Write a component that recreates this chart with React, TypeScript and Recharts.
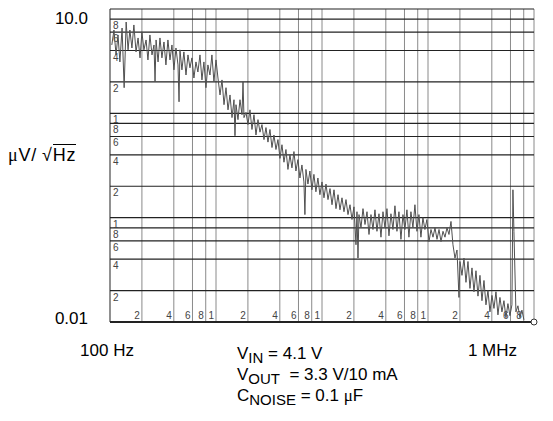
import React from "react";
import { LineChart, Line, XAxis, YAxis, ReferenceLine, ReferenceDot } from "recharts";

// noise spectrum (Hz, µV/√Hz)
const freqHz = [
  104, 109, 114, 119, 124, 130, 136, 142, 148, 154, 161, 168, 176, 184, 192, 200, 209, 219, 228, 238,
  249, 260, 266, 272, 284, 296, 309, 323, 337, 352, 368, 384, 401, 419, 438, 448, 457, 477, 498, 521,
  544, 568, 593, 619, 647, 675, 706, 737, 769, 804, 839, 877, 915, 956, 1000,
  1044, 1091, 1139, 1190, 1243, 1298, 1355, 1416, 1478, 1510, 1544, 1612, 1684, 1759, 1798, 1837, 1918,
  2003, 2092, 2185, 2282, 2383, 2489, 2599, 2715, 2835, 2961, 3092, 3229, 3373, 3522, 3679, 3842, 4012,
  4190, 4376, 4570, 4773, 4984, 5205, 5436, 5677, 5929, 6192, 6467, 6753, 6900, 7053, 7366, 7692, 8033,
  8390, 8762, 9150, 9556, 10000,
  10440, 10910, 11390, 11900, 12430, 12980, 13550, 14160, 14780, 15440, 16120, 16840, 17590, 18370,
  19180, 20030, 20920, 21380, 21850, 22330, 23320, 24360, 25440, 26570, 27750, 28980, 30260, 31600,
  33000, 34470, 36000, 37600, 39260, 41000, 42820, 44720, 46700, 48770, 50940, 53200, 55560, 58020,
  60590, 63280, 66090, 69020, 72080, 75280, 78620, 82110, 85750, 89550, 93520, 97670,
  102200, 106700, 111500, 116400, 121600, 127000, 132600, 138500, 144600, 151000, 157700, 164800,
  172000, 179700, 187700, 196000, 200300, 209200, 218500, 228200, 238300, 248900, 259900, 271500,
  283500, 296100, 309200, 322900, 337300, 352200, 367900, 384200, 401200, 419000, 437600, 457000,
  477300, 498400, 520500, 543600, 567700, 592900, 619200, 632800, 646700, 675300, 705300, 736600,
  769200, 803300,
];

const noiseUv = [
  4.52, 6.29, 3.63, 5.64, 3.11, 6.57, 1.76, 7.5, 4.06, 6.29, 4.23, 7.03, 3.88, 5.28, 3.4, 6.0, 4.06, 5.05, 3.25, 5.64,
  3.63, 4.52, 2.0, 5.05, 3.11, 5.28, 3.4, 4.83, 2.91, 5.05, 3.25, 4.52, 2.61, 4.23, 2.91, 1.29, 4.06, 2.61, 3.88, 2.33,
  3.63, 2.73, 3.4, 2.18, 3.11, 2.49, 3.63, 2.09, 3.11, 1.76, 2.91, 2.33, 3.63, 2.0, 3.25,
  2.18, 1.5, 2.09, 1.21, 1.76, 1.08, 1.5, 0.91, 1.35, 0.61, 1.21, 0.87, 1.35, 0.97, 2.0, 0.91, 1.02,
  0.78, 1.08, 0.7, 0.97, 0.62, 0.87, 0.66, 0.78, 0.56, 0.73, 0.53, 0.7, 0.47, 0.62, 0.45, 0.56, 0.37,
  0.5, 0.34, 0.45, 0.29, 0.4, 0.3, 0.43, 0.28, 0.36, 0.24, 0.32, 0.22, 0.107, 0.29, 0.21, 0.28, 0.185,
  0.26, 0.177, 0.24, 0.166, 0.22,
  0.155, 0.21, 0.149, 0.19, 0.133, 0.185, 0.122, 0.166, 0.119, 0.155, 0.114, 0.149, 0.107, 0.133,
  0.096, 0.127, 0.055, 0.114, 0.041, 0.107, 0.08, 0.122, 0.086, 0.114, 0.069, 0.107, 0.077, 0.119,
  0.074, 0.109, 0.065, 0.114, 0.08, 0.122, 0.067, 0.109, 0.077, 0.13, 0.074, 0.114, 0.062, 0.107,
  0.077, 0.119, 0.065, 0.114, 0.08, 0.133, 0.074, 0.107, 0.065, 0.1, 0.077, 0.096,
  0.059, 0.077, 0.065, 0.08, 0.062, 0.077, 0.059, 0.074, 0.065, 0.08, 0.069, 0.092,
  0.055, 0.041, 0.049, 0.0172, 0.038, 0.028, 0.041, 0.024, 0.038, 0.021, 0.033, 0.0195,
  0.031, 0.0177, 0.028, 0.016, 0.025, 0.0146, 0.02, 0.0125, 0.018, 0.0135, 0.0195, 0.0117,
  0.0172, 0.0125, 0.016, 0.011, 0.015, 0.0115, 0.0146, 0.185, 0.074, 0.0125, 0.0143, 0.011,
  0.013, 0.0105,
];

const xGrid = [
  100, 200, 400, 600, 800, 1000, 2000, 4000, 6000, 8000, 10000, 20000, 40000, 60000, 80000,
  100000, 200000, 400000, 600000, 800000, 1000000,
];
const yGrid = [0.01, 0.02, 0.04, 0.06, 0.08, 0.1, 0.2, 0.4, 0.6, 0.8, 1, 2, 4, 6, 8, 10];

const xEndLabels = ["100 Hz", "1 MHz"];
const yEndLabels = ["0.01", "10.0"];

const W = 553;
const H = 421;
const FONT = "'Liberation Sans', Arial, sans-serif";

const data = freqHz.map((f, i) => ({ f, v: noiseUv[i] }));

// leading digit of a grid value, as printed on the chart paper
const digit = (v: number) => {
  const m = Math.round(v / Math.pow(10, Math.floor(Math.log10(v) + 1e-9)));
  return String(m);
};

function xLabel(v: number) {
  return (p: any) => {
    const vb = p.viewBox;
    const bottom = vb.y + vb.height;
    if (v === 100) {
      return (
        <text x={vb.x - 3} y={bottom + 34} textAnchor="middle" fontSize={17} fontFamily={FONT} fill="#000">
          {xEndLabels[0]}
        </text>
      );
    }
    if (v === 1000000) {
      return (
        <text x={vb.x - 17} y={bottom + 34} textAnchor="end" fontSize={17} fontFamily={FONT} fill="#000">
          {xEndLabels[1]}
        </text>
      );
    }
    return (
      <text x={vb.x - 2} y={bottom - 3} textAnchor="end" fontSize={10} fontFamily={FONT} fill="#444">
        {digit(v)}
      </text>
    );
  };
}

function yLabel(v: number) {
  return (p: any) => {
    const vb = p.viewBox;
    if (v === 0.01 || v === 10) {
      return (
        <text
          x={vb.x - 22}
          y={v === 10 ? vb.y + 15 : vb.y + 2}
          textAnchor="end"
          fontSize={17}
          fontFamily={FONT}
          fill="#000"
        >
          {v === 10 ? yEndLabels[1] : yEndLabels[0]}
        </text>
      );
    }
    return (
      <text x={vb.x + 3} y={vb.y + 10} fontSize={10} fontFamily={FONT} fill="#444">
        {digit(v)}
      </text>
    );
  };
}

export default function App() {
  return (
    <div style={{ position: "fixed", left: 0, top: 0, width: W, height: H, background: "#fff" }}>
      <LineChart width={W} height={H} data={data} margin={{ top: 9, right: 19, bottom: 99, left: 110 }}>
        <XAxis
          dataKey="f"
          type="number"
          scale="log"
          domain={[100, 1000000]}
          height={0}
          tick={false}
          tickLine={false}
          axisLine={false}
          allowDataOverflow
        />
        <YAxis
          type="number"
          scale="log"
          domain={[0.01, 10]}
          width={0}
          tick={false}
          tickLine={false}
          axisLine={false}
          allowDataOverflow
        />
        {xGrid.map((v) => (
          <ReferenceLine
            key={"x" + v}
            x={v}
            stroke={v === 100 ? "#555" : "#8a8a8a"}
            strokeWidth={v === 100 ? 1.3 : 1}
            ifOverflow="visible"
            label={xLabel(v)}
          />
        ))}
        {yGrid.map((v) => (
          <ReferenceLine
            key={"y" + v}
            y={v}
            stroke="#222"
            strokeWidth={v === 0.01 ? 1.8 : 1.2}
            ifOverflow="visible"
            label={yLabel(v)}
          />
        ))}
        <Line
          dataKey="v"
          stroke="#505050"
          strokeWidth={1}
          dot={false}
          isAnimationActive={false}
          type="linear"
        />
        <ReferenceDot x={1000000} y={0.01} r={3} fill="#fff" stroke="#333" ifOverflow="visible" />
      </LineChart>

      <div
        style={{
          position: "absolute",
          left: 8,
          top: 145,
          fontFamily: FONT,
          fontSize: 18,
          color: "#000",
          whiteSpace: "nowrap",
          letterSpacing: 0.8,
        }}
      >
        <span style={{ fontFamily: "'Liberation Serif', serif" }}>μ</span>V/
        <span style={{ marginLeft: 5 }}>√</span>
        <span style={{ borderTop: "1px solid #000" }}>Hz</span>
      </div>

      <div
        style={{
          position: "absolute",
          left: 237,
          top: 343,
          fontFamily: FONT,
          fontSize: 17,
          lineHeight: "21px",
          color: "#000",
          whiteSpace: "nowrap",
        }}
      >
        <div>
          V<sub style={{ fontSize: 15, lineHeight: 0 }}>IN</sub> = 4.1 V
        </div>
        <div>
          V<sub style={{ fontSize: 15, lineHeight: 0 }}>OUT</sub>&nbsp; = 3.3 V/10 mA
        </div>
        <div>
          C<sub style={{ fontSize: 15, lineHeight: 0 }}>NOISE</sub> = 0.1{" "}
          <span style={{ fontFamily: "'Liberation Serif', serif" }}>μ</span>F
        </div>
      </div>
    </div>
  );
}
